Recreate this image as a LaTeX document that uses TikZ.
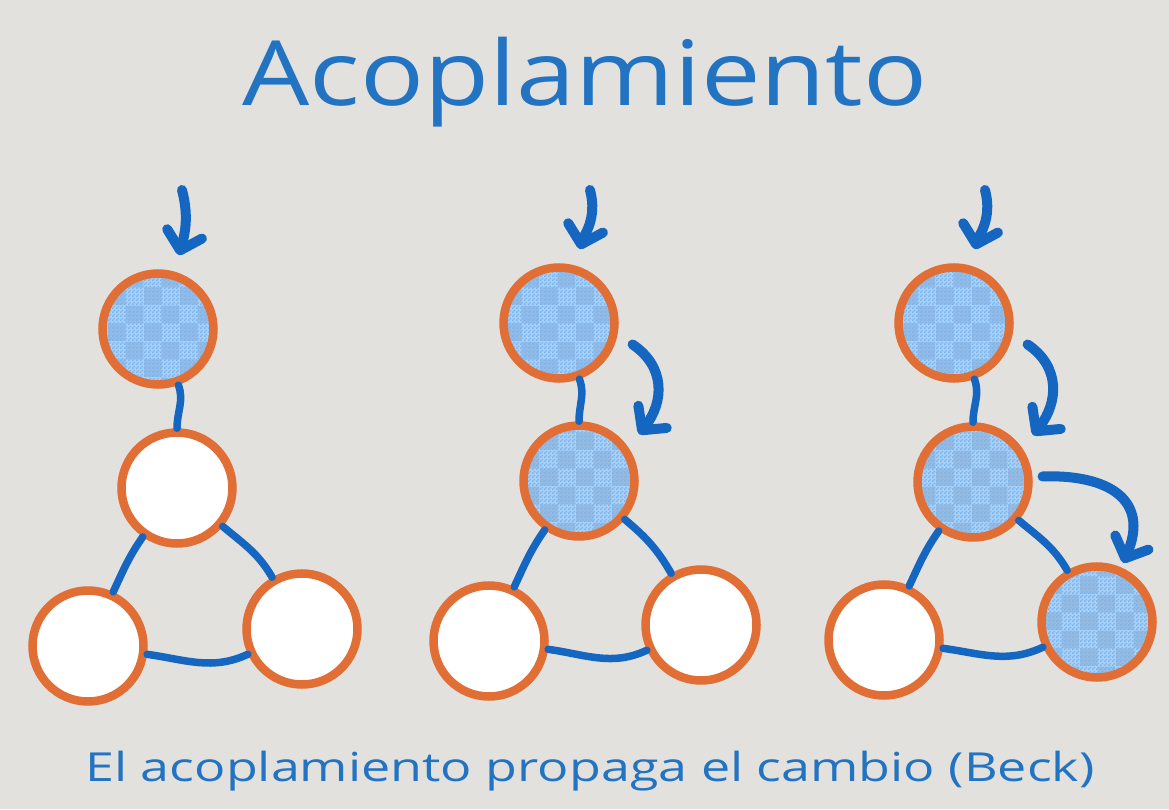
\documentclass[tikz,border=0pt]{standalone}
\usepackage{fontspec}
\setmainfont{Open Sans}
\newfontfamily\titulofont[FakeStretch=1.18]{Open Sans}
\newfontfamily\piefont[FakeStretch=1.3]{Open Sans}
\usetikzlibrary{arrows.meta,patterns}
\definecolor{fondo}{HTML}{E3E1DE}
\definecolor{naranja}{HTML}{E06E35}
\definecolor{azul}{HTML}{1466C0}
\definecolor{azultxt}{HTML}{2274C2}
\definecolor{claro}{HTML}{A8D1F8}
\definecolor{cuadro}{HTML}{7DB4EE}
\pgfdeclarepatternformonly{cuadritos}{\pgfpointorigin}{\pgfqpoint{4pt}{4pt}}{\pgfqpoint{4pt}{4pt}}{
  \pgfpathrectangle{\pgfpointorigin}{\pgfqpoint{2pt}{2pt}}
  \pgfpathrectangle{\pgfqpoint{2pt}{2pt}}{\pgfqpoint{2pt}{2pt}}
  \pgfusepath{fill}}
\pgfdeclarepatternformonly{bloques}{\pgfpointorigin}{\pgfqpoint{36pt}{36pt}}{\pgfqpoint{36pt}{36pt}}{
  \pgfpathrectangle{\pgfpointorigin}{\pgfqpoint{18pt}{18pt}}
  \pgfpathrectangle{\pgfqpoint{18pt}{18pt}}{\pgfqpoint{18pt}{18pt}}
  \pgfusepath{fill}}
\tikzset{
  nodo/.style={circle,draw=naranja,line width=8.5pt,minimum size=111pt,inner sep=0pt,fill=white},
  cambiado/.style={nodo,preaction={fill=claro},preaction={pattern=bloques,pattern color=claro!90!black},
    pattern=cuadritos,pattern color=cuadro},
  enlace/.style={draw=azul,line width=7.5pt,line cap=round},
  flecha/.style={draw=azul,line width=10pt,line cap=round,
    -{Straight Barb[round,length=17pt,width=36pt]}}
}

\begin{document}
\begin{tikzpicture}[x=1pt,y=1pt,semithick]
\fill[fondo] (0,0) rectangle (1169,809);
\useasboundingbox (0,0) rectangle (1169,809);

\node[text=azultxt,anchor=base] (titulo) at (585,703)
  {\titulofont\fontsize{90}{90}\selectfont Acoplamiento};
\node[text=azultxt,anchor=base] (pie) at (590,28)
  {\piefont\fontsize{40}{40}\selectfont El acoplamiento propaga el cambio (Beck)};

% primer grafo
\node[cambiado] (t1) at (158,480) {};
\node[nodo] (m1) at (177,321) {};
\node[nodo] (l1) at (88,163) {};
\node[nodo] (r1) at (302,180) {};
% segundo grafo
\node[cambiado] (t2) at (559,486) {};
\node[cambiado] (m2) at (579,328) {};
\node[nodo] (l2) at (489,168) {};
\node[nodo] (r2) at (701,184) {};
% tercer grafo
\node[cambiado] (t3) at (954,486) {};
\node[cambiado] (m3) at (973,327) {};
\node[nodo] (l3) at (884,169) {};
\node[cambiado] (r3) at (1097,187) {};

\foreach \i in {1,2,3}{
  \draw[enlace] (t\i) to[out=-70,in=90] (m\i);
  \draw[enlace] (m\i) to[out=-125,in=65] (l\i);
  \draw[enlace] (m\i) to[out=-40,in=120] (r\i);
  \draw[enlace] (l\i) to[out=-8,in=205] (r\i);
}

\coordinate (e1) at (182,619);
\coordinate (e2) at (590,619);
\coordinate (e3) at (985,619);
\foreach \i in {1,2,3}
  \draw[flecha,shorten >=17pt] (e\i) to[out=-75,in=75] (t\i.74);

\draw[flecha,shorten <=18pt,shorten >=17pt]
  (t2.-11) to[out=-34,in=52,looseness=1.3] (m2.34);
\draw[flecha,shorten <=18pt,shorten >=17pt]
  (t3.-11) to[out=-34,in=52,looseness=1.3] (m3.34);
\draw[flecha,shorten <=10pt,shorten >=5pt]
  (m3.5) to[out=2,in=67,looseness=1.5] (r3.66);
\end{tikzpicture}
\end{document}
